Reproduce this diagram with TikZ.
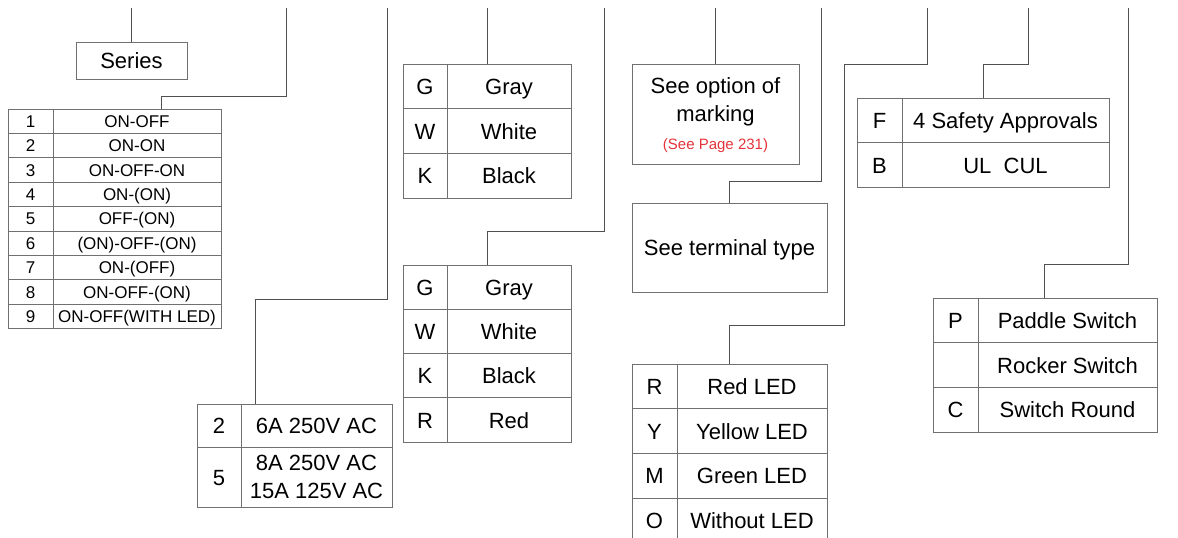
\documentclass[tikz,border=0pt]{standalone}
\usepackage{fontspec}
\setmainfont{Liberation Sans}
\usepackage{xcolor}
\usetikzlibrary{positioning}
\definecolor{wiregray}{HTML}{505050}
\definecolor{linegray}{HTML}{707070}
\definecolor{notered}{HTML}{E5323A}
\tikzstyle{cell} = [rectangle, draw=linegray, line width=0.9pt, inner sep=0pt,
    outer sep=0pt, anchor=north west, text centered, text height=16pt, text depth=0pt,
    font=\fontsize{22}{28}\selectfont]
\tikzstyle{smallcell} = [cell, minimum height=24.4pt, text height=12pt,
    font=\fontsize{17}{20}\selectfont]
\tikzstyle{box} = [cell, anchor=center, align=center, text height=, text depth=0pt]
\tikzstyle{wire} = [draw=wiregray, line width=0.9pt]

\begin{document}
\begin{tikzpicture}[x=1pt, y=-1pt]
  \useasboundingbox (0,0) rectangle (1178,538);

  % free ends at the top
  \coordinate (t-series) at (131.5,8);
  \coordinate (t-poles)  at (286,8);
  \coordinate (t-rating) at (387,8);
  \coordinate (t-cap)    at (487,8);
  \coordinate (t-base)   at (604,8);
  \coordinate (t-mark)   at (715.5,8);
  \coordinate (t-term)   at (821,8);
  \coordinate (t-led)    at (927,8);
  \coordinate (t-appr)   at (1028,8);
  \coordinate (t-style)  at (1128,8);

  \node (series) [cell, anchor=center, minimum width=111pt, minimum height=37pt] at (131.5,60.5) {Series};

  % circuit table
  \foreach \i/\k/\v in {1/1/ON-OFF, 2/2/ON-ON, 3/3/ON-OFF-ON, 4/4/ON-(ON),
                        5/5/OFF-(ON), 6/6/(ON)-OFF-(ON), 7/7/ON-(OFF),
                        8/8/ON-OFF-(ON), 9/9/ON-OFF(WITH LED)} {
    \node (ser-k\i) [smallcell, minimum width=45pt]  at (8,  {109+(\i-1)*24.4}) {\k};
    \node (ser-v\i) [smallcell, minimum width=168pt] at (53, {109+(\i-1)*24.4}) {\v};
  }

  % rating table
  \node (cur-k1) [cell, minimum width=44pt,  minimum height=43pt] at (197,404) {2};
  \node (cur-v1) [cell, minimum width=151pt, minimum height=43pt] at (241,404) {6A 250V AC};
  \node (cur-k2) [cell, minimum width=44pt,  minimum height=60pt] at (197,447) {5};
  \node (cur-v2) [cell, minimum width=151pt, minimum height=60pt, align=center,
        text height=, text depth=] at (241,447) {8A 250V AC\\15A 125V AC};

  % cap colour / base colour
  \foreach \i/\k/\v in {1/G/Gray, 2/W/White, 3/K/Black} {
    \node (cap-k\i) [cell, minimum width=44pt,  minimum height=44.7pt] at (403, {64+(\i-1)*44.7}) {\k};
    \node (cap-v\i) [cell, minimum width=124pt, minimum height=44.7pt] at (447, {64+(\i-1)*44.7}) {\v};
  }
  \foreach \i/\k/\v in {1/G/Gray, 2/W/White, 3/K/Black, 4/R/Red} {
    \node (base-k\i) [cell, minimum width=44pt,  minimum height=44.3pt] at (403, {265+(\i-1)*44.3}) {\k};
    \node (base-v\i) [cell, minimum width=124pt, minimum height=44.3pt] at (447, {265+(\i-1)*44.3}) {\v};
  }

  % marking and terminal
  \node (mark) [box, minimum width=167pt, minimum height=100pt] at (715.5,114)
        {See option of\\marking\\{\color{notered}\fontsize{15}{18}\selectfont (See Page 231)}};
  \node (term) [box, minimum width=195pt, minimum height=89pt] at (729.5,247.5)
        {See terminal type};

  % LED table
  \foreach \i/\k/\v in {1/R/Red LED, 2/Y/Yellow LED, 3/M/Green LED, 4/O/Without LED} {
    \node (led-k\i) [cell, minimum width=45pt,  minimum height=44.7pt] at (632, {364+(\i-1)*44.7}) {\k};
    \node (led-v\i) [cell, minimum width=150pt, minimum height=44.7pt] at (677, {364+(\i-1)*44.7}) {\v};
  }

  % approvals
  \foreach \i/\k/\v in {1/F/4 Safety Approvals, 2/B/UL\ \ CUL} {
    \node (appr-k\i) [cell, minimum width=45pt,  minimum height=44.7pt] at (857, {98+(\i-1)*44.7}) {\k};
    \node (appr-v\i) [cell, minimum width=207pt, minimum height=44.7pt] at (902, {98+(\i-1)*44.7}) {\v};
  }

  % switch style
  \foreach \i/\k/\v in {1/P/Paddle Switch, 2//Rocker Switch, 3/C/Switch Round} {
    \node (sty-k\i) [cell, minimum width=45pt,  minimum height=44.7pt] at (933, {298+(\i-1)*44.7}) {\k};
    \node (sty-v\i) [cell, minimum width=179pt, minimum height=44.7pt] at (978, {298+(\i-1)*44.7}) {\v};
  }

  % connectors
  \draw[wire] (t-series) -- (series.north);
  \draw[wire] (t-poles) -- ++(0,88) -| ([xshift=108pt]ser-v1.north west);
  \draw[wire] (t-rating) -- ++(0,291) -| ([xshift=14pt]cur-v1.north west);
  \draw[wire] (t-cap) -- ([xshift=40pt]cap-v1.north west);
  \draw[wire] (t-base) -- ++(0,223) -| ([xshift=40pt]base-v1.north west);
  \draw[wire] (t-mark) -- (mark.north);
  \draw[wire] (t-term) -- ++(0,173) -| (term.north);
  \draw[wire] (t-led) -- ++(0,56) -| ++(-83,261) -| ([xshift=52pt]led-v1.north west);
  \draw[wire] (t-appr) -- ++(0,56) -| ([xshift=81pt]appr-v1.north west);
  \draw[wire] (t-style) -- ++(0,256) -| ([xshift=66pt]sty-v1.north west);

\end{tikzpicture}
\end{document}
